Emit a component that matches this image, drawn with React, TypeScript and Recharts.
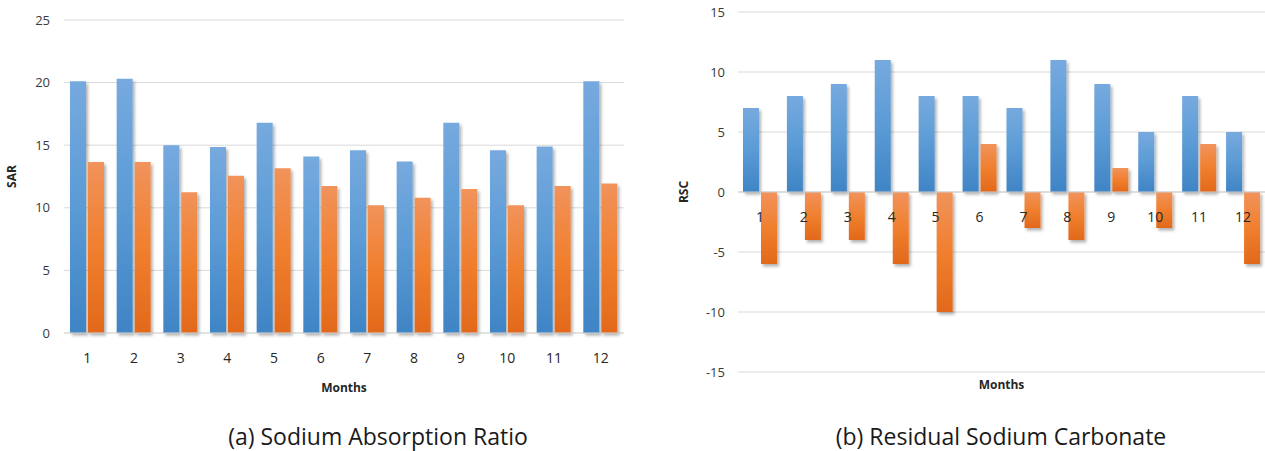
import { Bar, BarChart, CartesianGrid, Rectangle, ReferenceLine, XAxis, YAxis } from 'recharts'

const months = ['1', '2', '3', '4', '5', '6', '7', '8', '9', '10', '11', '12']

// (a) SAR, two series per month
const sarBlue = [20.1, 20.3, 15.0, 14.85, 16.8, 14.1, 14.6, 13.7, 16.8, 14.6, 14.9, 20.1]
const sarOrange = [13.65, 13.65, 11.25, 12.55, 13.15, 11.75, 10.2, 10.8, 11.5, 10.2, 11.75, 11.95]
const sarTicks = [0, 5, 10, 15, 20, 25]

// (b) RSC
const rscBlue = [7, 8, 9, 11, 8, 8, 7, 11, 9, 5, 8, 5]
const rscOrange = [-6, -4, -4, -6, -10, 4, -3, -4, 2, -3, 4, -6]
const rscTicks = [-15, -10, -5, 0, 5, 10, 15]

const sarData = months.map((month, i) => ({ month, blue: sarBlue[i], orange: sarOrange[i] }))
const rscData = months.map((month, i) => ({ month, blue: rscBlue[i], orange: rscOrange[i] }))

const FONT = '"Open Sans", "Noto Sans", sans-serif'
const TICK = { fill: '#3a3a3a', fontSize: 13, fontFamily: FONT }
const GRID = '#d9d9d9'
const RSC_PLOT_HEIGHT = 360

function Defs({ id }: { id: string }) {
  return (
    <defs>
      <linearGradient id={`${id}-blue`} x1="0" y1="0" x2="0" y2="1">
        <stop offset="0%" stopColor="#76aadf" />
        <stop offset="50%" stopColor="#5b9bd5" />
        <stop offset="100%" stopColor="#3f84c5" />
      </linearGradient>
      <linearGradient id={`${id}-orange`} x1="0" y1="0" x2="0" y2="1">
        <stop offset="0%" stopColor="#f1935b" />
        <stop offset="50%" stopColor="#f07f2e" />
        <stop offset="100%" stopColor="#e2691b" />
      </linearGradient>
      <filter id={`${id}-shadow`} x="-0.6" y="-0.2" width="2.2" height="1.4">
        <feDropShadow dx="2" dy="2.5" stdDeviation="1.5" floodColor="#000" floodOpacity="0.3" />
      </filter>
    </defs>
  )
}

function shadowShape(id: string) {
  return (props: any) => <Rectangle {...props} filter={`url(#${id}-shadow)`} />
}

function RscTick({ x, y, payload }: any) {
  // labels sit just under the zero line, not at the bottom of the plot
  const zeroY = y - RSC_PLOT_HEIGHT / 2
  return (
    <text x={x} y={zeroY + 25} dy="0.35em" textAnchor="middle" fill="#262626" fontSize={14} fontFamily={FONT}>
      {payload.value}
    </text>
  )
}

const captionStyle: React.CSSProperties = {
  position: 'absolute',
  top: 421,
  fontFamily: FONT,
  fontSize: 23,
  lineHeight: '31px',
  color: '#1a1a1a',
  whiteSpace: 'nowrap',
  transform: 'translateX(-50%)',
}

export default function App() {
  return (
    <div style={{ position: 'absolute', left: 0, top: 0, width: 1265, height: 451, background: '#fff', overflow: 'hidden' }}>
      <div style={{ position: 'absolute', left: 0, top: 0 }}>
        <BarChart width={640} height={400} data={sarData} margin={{ top: 20, right: 16, bottom: 0, left: 0 }} barSize={16} barGap={2}>
          <Defs id="sar" />
          <CartesianGrid stroke={GRID} vertical={false} />
          <XAxis
            dataKey="month"
            height={67}
            tick={{ ...TICK, fill: '#262626', fontSize: 14 }}
            tickLine={false}
            tickMargin={14}
            axisLine={{ stroke: GRID }}
            label={{ value: 'Months', position: 'insideBottom', offset: 8, fill: '#262626', fontSize: 12, fontWeight: 700, fontFamily: FONT }}
          />
          <YAxis
            width={64}
            domain={[0, 25]}
            ticks={sarTicks}
            tick={TICK}
            tickLine={false}
            tickMargin={8}
            axisLine={false}
            label={{ value: 'SAR', angle: -90, position: 'insideLeft', offset: 12, fill: '#262626', fontSize: 12, fontWeight: 700, fontFamily: FONT, style: { textAnchor: 'middle' } }}
          />
          <Bar dataKey="blue" fill="url(#sar-blue)" shape={shadowShape('sar')} isAnimationActive={false} />
          <Bar dataKey="orange" fill="url(#sar-orange)" shape={shadowShape('sar')} isAnimationActive={false} />
        </BarChart>
      </div>
      <div style={{ ...captionStyle, left: 378 }}>(a) Sodium Absorption Ratio</div>

      <div style={{ position: 'absolute', left: 640, top: 0 }}>
        <BarChart width={625} height={400} data={rscData} margin={{ top: 12, right: 0, bottom: 0, left: 0 }} barSize={16} barGap={2}>
          <Defs id="rsc" />
          <CartesianGrid stroke={GRID} vertical={false} />
          <XAxis
            dataKey="month"
            height={28}
            tick={<RscTick />}
            tickLine={false}
            tickSize={0}
            tickMargin={0}
            axisLine={false}
            label={{ value: 'Months', position: 'insideBottom', offset: 11, fill: '#262626', fontSize: 12, fontWeight: 700, fontFamily: FONT }}
          />
          <YAxis
            width={98}
            domain={[-15, 15]}
            ticks={rscTicks}
            tick={TICK}
            tickLine={false}
            tickMargin={7}
            axisLine={false}
            label={{ value: 'RSC', angle: -90, position: 'insideLeft', offset: 44, fill: '#262626', fontSize: 12, fontWeight: 700, fontFamily: FONT, style: { textAnchor: 'middle' } }}
          />
          <ReferenceLine y={0} stroke="#cfcfcf" />
          <Bar dataKey="blue" fill="url(#rsc-blue)" shape={shadowShape('rsc')} isAnimationActive={false} />
          <Bar dataKey="orange" fill="url(#rsc-orange)" shape={shadowShape('rsc')} isAnimationActive={false} />
        </BarChart>
      </div>
      <div style={{ ...captionStyle, left: 1001 }}>(b) Residual Sodium Carbonate</div>
    </div>
  )
}
